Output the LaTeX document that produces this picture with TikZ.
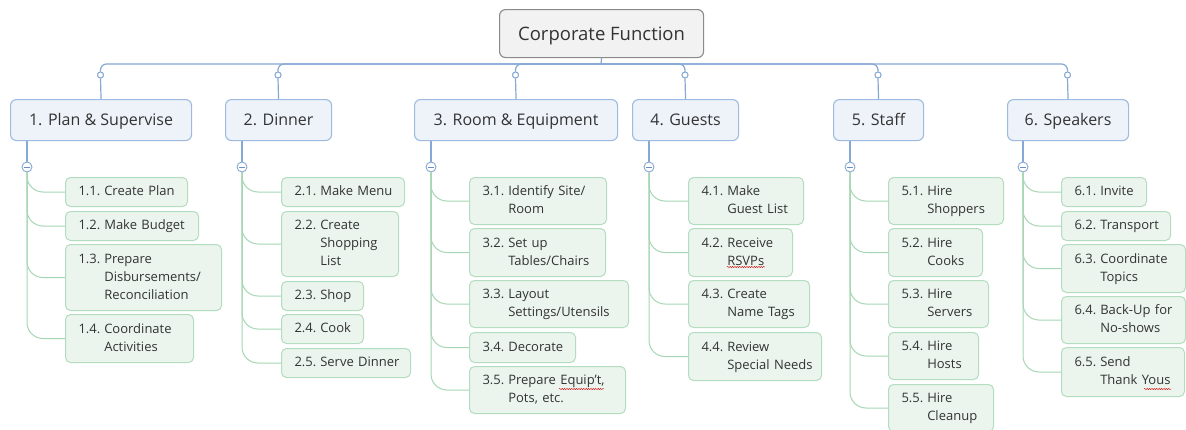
\documentclass[tikz,border=0pt]{standalone}
\usepackage{fontspec}
\setmainfont{Open Sans}
\usetikzlibrary{decorations.pathmorphing}

\definecolor{inkgray}{HTML}{333333}
\definecolor{rootfill}{HTML}{F2F2F2}
\definecolor{rootdraw}{HTML}{8A8A8A}
\definecolor{topicfill}{HTML}{EEF3FA}
\definecolor{topicdraw}{HTML}{9DBBE0}
\definecolor{blueline}{HTML}{86A8D4}
\definecolor{leaffill}{HTML}{EBF5EE}
\definecolor{leafdraw}{HTML}{B3DDBF}
\definecolor{greenline}{HTML}{A6D6B3}
\definecolor{minusink}{HTML}{6D8FBF}

% number column + hanging text column
\newcommand\lbl[2]{\begin{tabular}[c]{@{}l@{\hspace{4pt}}l@{}}#1&#2\end{tabular}}

\tikzset{
  rootbox/.style={draw=rootdraw, fill=rootfill, line width=1.1pt, rounded corners=6pt,
    text=inkgray, font=\fontsize{18.5}{22}\selectfont, anchor=north west, inner sep=0pt,
    text height=13.2pt, text depth=0pt},
  topicbox/.style={draw=topicdraw, fill=topicfill, line width=1.1pt, rounded corners=6pt,
    text=inkgray, font=\fontsize{16}{20}\selectfont, anchor=north west, inner sep=0pt,
    minimum height=41pt, text height=11.4pt, text depth=0pt},
  leafbox/.style={draw=leafdraw, fill=leaffill, line width=1pt, rounded corners=5pt,
    text=inkgray, font=\fontsize{13}{18}\selectfont, anchor=north west,
    inner xsep=13pt, inner ysep=0pt, align=left},
  jcirc/.style={circle, draw=blueline, fill=white, line width=0.9pt, inner sep=0pt,
    minimum size=6pt},
  mcirc/.style={circle, draw=blueline, fill=white, line width=0.9pt, inner sep=0pt,
    minimum size=10pt,
    path picture={\draw[minusink, line width=1pt]
      ([xshift=-2.6pt]path picture bounding box.center) --
      ([xshift=2.6pt]path picture bounding box.center);}},
  bline/.style={draw=blueline, line width=1.2pt, rounded corners=6pt},
  gline/.style={draw=greenline, line width=1pt, rounded corners=16pt},
  squig/.style={draw=red!85!black, line width=0.45pt, decorate,
    decoration={snake, amplitude=0.55pt, segment length=2.4pt}}
}

\begin{document}
\begin{tikzpicture}[x=1pt, y=-1pt]
\useasboundingbox (0,0) rectangle (1186,429);
\fill[white] (0,0) rectangle (1186,429);
\clip (0,0) rectangle (1186,429);

% central topic
\node[rootbox, minimum width=204pt, minimum height=48pt] (root) at (499,9) {Corporate Function};
\coordinate (hub) at (601,64);

% main topics
\node[topicbox, minimum width=181pt] (t1) at (10,99)   {1. Plan \& Supervise};
\node[topicbox, minimum width=106pt] (t2) at (225,99)  {2. Dinner};
\node[topicbox, minimum width=203pt] (t3) at (414,99)  {3. Room \& Equipment};
\node[topicbox, minimum width=106pt] (t4) at (632,99)  {4. Guests};
\node[topicbox, minimum width=90pt]  (t5) at (833,99)  {5. Staff};
\node[topicbox, minimum width=121pt] (t6) at (1007,99) {6. Speakers};

% junction circles above the main topics
\node[jcirc] (k1) at (100.5,75) {};
\node[jcirc] (k2) at (278,75) {};
\node[jcirc] (k3) at (515.5,75) {};
\node[jcirc] (k4) at (685,75) {};
\node[jcirc] (k5) at (878,75) {};
\node[jcirc] (k6) at (1067.5,75) {};

% collapse buttons below the main topics
\node[mcirc] (m1) at (27,167) {};
\node[mcirc] (m2) at (242,167) {};
\node[mcirc] (m3) at (431,167) {};
\node[mcirc] (m4) at (649,167) {};
\node[mcirc] (m5) at (850,167) {};
\node[mcirc] (m6) at (1023,167) {};

% sub-topics: group 1
\node[leafbox, text width=96pt,  minimum height=29pt] (c11) at (65,177) {\lbl{1.1.}{Create Plan}};
\node[leafbox, text width=107pt, minimum height=29pt] (c12) at (65,211) {\lbl{1.2.}{Make Budget}};
\node[leafbox, text width=130pt, minimum height=66pt] (c13) at (65,244) {\lbl{1.3.}{Prepare\\&Disbursements/\\&Reconciliation}};
\node[leafbox, text width=102pt, minimum height=48pt] (c14) at (65,314) {\lbl{1.4.}{Coordinate\\&Activities}};

% group 2
\node[leafbox, text width=97pt,  minimum height=29pt] (c21) at (281,177) {\lbl{2.1.}{Make Menu}};
\node[leafbox, text width=91pt,  minimum height=65pt] (c22) at (281,211) {\lbl{2.2.}{Create\\&Shopping\\&List}};
\node[leafbox, text width=56pt,  minimum height=29pt] (c23) at (281,281) {\lbl{2.3.}{Shop}};
\node[leafbox, text width=56pt,  minimum height=29pt] (c24) at (281,314) {\lbl{2.4.}{Cook}};
\node[leafbox, text width=103pt, minimum height=29pt] (c25) at (281,348) {\lbl{2.5.}{Serve Dinner}};

% group 3
\node[leafbox, text width=111pt, minimum height=47pt] (c31) at (469,177) {\lbl{3.1.}{Identify Site/\\&Room}};
\node[leafbox, text width=110pt, minimum height=48pt] (c32) at (469,228) {\lbl{3.2.}{Set up\\&Tables/Chairs}};
\node[leafbox, text width=133pt, minimum height=47pt] (c33) at (469,280) {\lbl{3.3.}{Layout\\&Settings/Utensils}};
\node[leafbox, text width=80pt,  minimum height=30pt] (c34) at (469,332) {\lbl{3.4.}{Decorate}};
\node[leafbox, text width=130pt, minimum height=47pt] (c35) at (469,366) {\lbl{3.5.}{Prepare Equip't,\\&Pots, etc.}};

% group 4
\node[leafbox, text width=89pt,  minimum height=47pt] (c41) at (688,177) {\lbl{4.1.}{Make\\&Guest List}};
\node[leafbox, text width=78pt,  minimum height=48pt] (c42) at (688,228) {\lbl{4.2.}{Receive\\&RSVPs}};
\node[leafbox, text width=95pt,  minimum height=47pt] (c43) at (688,280) {\lbl{4.3.}{Create\\&Name Tags}};
\node[leafbox, text width=107pt, minimum height=48pt] (c44) at (688,332) {\lbl{4.4.}{Review\\&Special Needs}};

% group 5
\node[leafbox, text width=89pt, minimum height=47pt] (c51) at (888,177) {\lbl{5.1.}{Hire\\&Shoppers}};
\node[leafbox, text width=68pt, minimum height=48pt] (c52) at (888,228) {\lbl{5.2.}{Hire\\&Cooks}};
\node[leafbox, text width=74pt, minimum height=47pt] (c53) at (888,280) {\lbl{5.3.}{Hire\\&Servers}};
\node[leafbox, text width=64pt, minimum height=47pt] (c54) at (888,332) {\lbl{5.4.}{Hire\\&Hosts}};
\node[leafbox, text width=79pt, minimum height=47pt] (c55) at (888,384) {\lbl{5.5.}{Hire\\&Cleanup}};

% group 6
\node[leafbox, text width=59pt, minimum height=29pt] (c61) at (1061,177) {\lbl{6.1.}{Invite}};
\node[leafbox, text width=83pt, minimum height=29pt] (c62) at (1061,211) {\lbl{6.2.}{Transport}};
\node[leafbox, text width=98pt, minimum height=48pt] (c63) at (1061,244) {\lbl{6.3.}{Coordinate\\&Topics}};
\node[leafbox, text width=98pt, minimum height=47pt] (c64) at (1061,296) {\lbl{6.4.}{Back-Up for\\&No-shows}};
\node[leafbox, text width=97pt, minimum height=49pt] (c65) at (1061,347) {\lbl{6.5.}{Send\\&Thank Yous}};

% blue tree: central topic to main topics
\draw[bline] (root.south) -- (hub);
\foreach \k in {1,...,6} {
  \draw[bline] (hub) -| (k\k.north);
  \draw[bline] (k\k.south) -- (t\k.north);
  \draw[bline] (t\k.south -| m\k) -- (m\k.north);
}
% redraw junction circles over the lines
\foreach \k/\x in {1/100.5,2/278,3/515.5,4/685,5/878,6/1067.5}
  \node[jcirc] at (\x,75) {};

% green branches to sub-topics
\foreach \g/\n in {1/4,2/5,3/5,4/4,5/5,6/5} {
  \foreach \i in {1,...,\n}
    \draw[gline] (m\g.south) |- (c\g\i.west);
}

% spell-check marks under words
\draw[squig] (559,389) -- (604,389);
\draw[squig] (727,267) -- (765,267);
\draw[squig] (1144,389) -- (1171,389);
\end{tikzpicture}
\end{document}
